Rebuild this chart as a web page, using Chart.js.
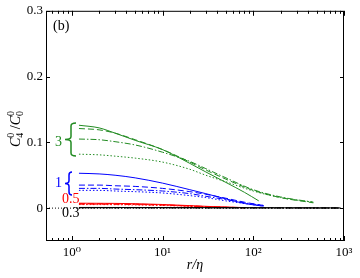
<!DOCTYPE html>
<html>
<head>
<meta charset="utf-8">
<script src="https://cdn.jsdelivr.net/npm/chart.js@4.4.1/dist/chart.umd.min.js"></script>
<style>
    body { margin: 0; background: #fff; }
    canvas { display: block; }
</style>
</head>
<body>
<canvas id="corrChart" width="360" height="278"></canvas>
<script>
// axis ranges and ticks
const xMin = 0.52, xMax = 1000;
const yMin = -0.05, yMax = 0.3;
const xTickValues = [1, 10, 100, 1000];
const xTickLabels = ['10\u2070', '10\u00b9', '10\u00b2', '10\u00b3'];
const yTickValues = [0, 0.1, 0.2, 0.3];
const yTickLabels = ['0', '0.1', '0.2', '0.3'];

// group "3" (green)
const rGreenSolid = [1.2, 2, 3, 5, 10, 20, 30, 50, 80, 115];
const greenSolid = [0.126, 0.122, 0.114, 0.103, 0.089, 0.068, 0.055, 0.039, 0.024, 0.011];
const rGreen = [1.2, 2, 3, 5, 10, 20, 30, 50, 100, 200, 460];
const greenDashed = [0.121, 0.119, 0.114, 0.104, 0.089, 0.070, 0.058, 0.044, 0.027, 0.016, 0.008];
const greenDashDot = [0.105, 0.104, 0.101, 0.096, 0.085, 0.071, 0.060, 0.046, 0.028, 0.017, 0.009];
const greenDotted = [0.082, 0.081, 0.079, 0.076, 0.070, 0.059, 0.050, 0.040, 0.026, 0.016, 0.009];

// group "1" (blue)
const rBlue = [1.2, 2, 3, 5, 10, 20, 30, 50, 80, 130];
const blueSolid = [0.053, 0.052, 0.050, 0.046, 0.038, 0.028, 0.022, 0.014, 0.007, 0.003];
const blueDashed = [0.035, 0.035, 0.034, 0.033, 0.030, 0.025, 0.021, 0.015, 0.009, 0.004];
const blueDashDot = [0.030, 0.030, 0.029, 0.028, 0.026, 0.022, 0.018, 0.013, 0.008, 0.004];
const blueDotted = [0.027, 0.027, 0.026, 0.025, 0.023, 0.019, 0.016, 0.011, 0.007, 0.003];

// group "0.5" (red)
const rRed = [1.2, 3, 5, 10, 20, 40, 80];
const redSolid = [0.0075, 0.0072, 0.0067, 0.0055, 0.0038, 0.0020, 0.0008];
const redDashed = [0.0068, 0.0065, 0.0060, 0.0050, 0.0034, 0.0018, 0.0007];
const redDashDot = [0.0061, 0.0058, 0.0054, 0.0045, 0.0030, 0.0016, 0.0006];
const redDotted = [0.0054, 0.0052, 0.0048, 0.0040, 0.0027, 0.0014, 0.0005];

// group "0.3" (black)
const rBlack = [1.2, 10, 100, 900];
const blackSolid = [0.0010, 0.0009, 0.0006, 0.0003];
const blackDashed = [0.0008, 0.0007, 0.0005, 0.0002];
const blackDashDot = [0.0006, 0.0005, 0.0004, 0.0002];
const blackDotted = [0.0004, 0.0004, 0.0003, 0.0001];

const GREEN = '#228b22';
const BLUE = '#0000ff';
const RED = '#ff0000';
const BLACK = '#000000';
const SOLID = [], DASHED = [6, 3], DASHDOT = [6, 2, 1.5, 2], DOTTED = [1.5, 2];
const SERIF = '"Liberation Serif", "DejaVu Serif", serif';

function series(xs, ys, color, dash) {
    return {
        data: xs.map(function(x, i) { return { x: x, y: ys[i] }; }),
        borderColor: color,
        borderDash: dash,
        borderWidth: 1,
        pointRadius: 0,
        fill: false,
        cubicInterpolationMode: 'monotone'
    };
}

// inward ticks, frame, braces and labels
const decorPlugin = {
    id: 'decor',
    afterDraw: function(chart) {
        const ctx = chart.ctx;
        const a = chart.chartArea;
        const xs = chart.scales.x;
        const ys = chart.scales.y;
        ctx.save();
        ctx.strokeStyle = '#000';
        ctx.lineWidth = 1;
        ctx.setLineDash([]);
        ctx.strokeRect(a.left + 0.5, a.top + 0.5, a.right - a.left - 1, a.bottom - a.top - 1);

        ctx.beginPath();
        for (let k = -1; k <= 3; k++) {
            for (let m = 1; m <= 9; m++) {
                const v = m * Math.pow(10, k);
                if (v < xMin || v > xMax) continue;
                const px = Math.round(xs.getPixelForValue(v)) + 0.5;
                const len = m === 1 ? 5 : 3;
                ctx.moveTo(px, a.bottom);
                ctx.lineTo(px, a.bottom - len);
                ctx.moveTo(px, a.top);
                ctx.lineTo(px, a.top + len);
            }
        }
        yTickValues.forEach(function(v) {
            const py = Math.round(ys.getPixelForValue(v)) + 0.5;
            ctx.moveTo(a.left, py);
            ctx.lineTo(a.left + 4, py);
            ctx.moveTo(a.right, py);
            ctx.lineTo(a.right - 4, py);
        });
        ctx.stroke();

        // braces
        function brace(xr, xl, top, bottom, color) {
            const mid = (top + bottom) / 2;
            const xm = (xr + xl) / 2 + 0.5;
            const r = 3;
            ctx.strokeStyle = color;
            ctx.lineWidth = 1.5;
            ctx.beginPath();
            ctx.moveTo(xr, top);
            ctx.quadraticCurveTo(xm, top, xm, top + r);
            ctx.lineTo(xm, mid - r);
            ctx.quadraticCurveTo(xm, mid, xl, mid);
            ctx.quadraticCurveTo(xm, mid, xm, mid + r);
            ctx.lineTo(xm, bottom - r);
            ctx.quadraticCurveTo(xm, bottom, xr, bottom);
            ctx.stroke();
        }
        brace(76, 65, 123, 156, GREEN);
        brace(72, 65, 172, 195, BLUE);

        ctx.font = '14px ' + SERIF;
        ctx.textBaseline = 'alphabetic';
        ctx.textAlign = 'left';
        ctx.fillStyle = GREEN;
        ctx.fillText('3', 55, 146);
        ctx.fillStyle = BLUE;
        ctx.fillText('1', 55, 187);
        ctx.fillStyle = RED;
        ctx.fillText('0.5', 62, 203);
        ctx.fillStyle = BLACK;
        ctx.fillText('0.3', 62, 217);

        ctx.font = '14px ' + SERIF;
        ctx.fillText('(b)', 53, 30);

        // x title
        ctx.font = 'italic 14px ' + SERIF;
        ctx.textAlign = 'center';
        ctx.fillText('r/\u03b7', (a.left + a.right) / 2, 269);

        // y title: C^0_4 / C^0_0
        ctx.translate(20, 129);
        ctx.rotate(-Math.PI / 2);
        const big = 'italic 14px ' + SERIF;
        const small = '10px ' + SERIF;
        const parts = [
            { t: 'C', f: big, dy: 0, adv: true },
            { t: '0', f: small, dy: -6, adv: false },
            { t: '4', f: small, dy: 3, adv: true },
            { t: ' /', f: '14px ' + SERIF, dy: 0, adv: true },
            { t: 'C', f: big, dy: 0, adv: true },
            { t: '0', f: small, dy: -6, adv: false },
            { t: '0', f: small, dy: 3, adv: true }
        ];
        let total = 0;
        parts.forEach(function(p) {
            ctx.font = p.f;
            if (p.adv) total += ctx.measureText(p.t).width;
        });
        let x = -total / 2;
        ctx.textAlign = 'left';
        parts.forEach(function(p) {
            ctx.font = p.f;
            ctx.fillText(p.t, x, p.dy);
            if (p.adv) x += ctx.measureText(p.t).width;
        });
        ctx.restore();
    }
};

document.addEventListener('DOMContentLoaded', function() {
    const canvas = document.getElementById('corrChart');
    const ctx = canvas.getContext('2d');
    try {
        new Chart(ctx, {
            type: 'line',
            data: {
                datasets: [
                    series([xMin, xMax], [0, 0], BLACK, [1, 2]),
                    series(rBlack, blackSolid, BLACK, SOLID),
                    series(rBlack, blackDashed, BLACK, DASHED),
                    series(rBlack, blackDashDot, BLACK, DASHDOT),
                    series(rBlack, blackDotted, BLACK, DOTTED),
                    series(rRed, redSolid, RED, SOLID),
                    series(rRed, redDashed, RED, DASHED),
                    series(rRed, redDashDot, RED, DASHDOT),
                    series(rRed, redDotted, RED, DOTTED),
                    series(rBlue, blueSolid, BLUE, SOLID),
                    series(rBlue, blueDashed, BLUE, DASHED),
                    series(rBlue, blueDashDot, BLUE, DASHDOT),
                    series(rBlue, blueDotted, BLUE, DOTTED),
                    series(rGreenSolid, greenSolid, GREEN, SOLID),
                    series(rGreen, greenDashed, GREEN, DASHED),
                    series(rGreen, greenDashDot, GREEN, DASHDOT),
                    series(rGreen, greenDotted, GREEN, DOTTED)
                ]
            },
            options: {
                responsive: false,
                animation: false,
                devicePixelRatio: 1,
                layout: { padding: { left: 0, right: 16, top: 9, bottom: 0 } },
                plugins: {
                    legend: { display: false },
                    tooltip: { enabled: false }
                },
                scales: {
                    x: {
                        type: 'logarithmic',
                        min: xMin,
                        max: xMax,
                        afterBuildTicks: function(scale) {
                            scale.ticks = xTickValues.map(function(v) { return { value: v }; });
                        },
                        afterFit: function(scale) { scale.height = 37; },
                        ticks: {
                            autoSkip: false,
                            maxRotation: 0,
                            padding: 4,
                            color: '#000',
                            font: { family: SERIF, size: 13 },
                            callback: function(value, index) { return xTickLabels[index]; }
                        },
                        grid: { display: false, drawTicks: false },
                        border: { display: false }
                    },
                    y: {
                        type: 'linear',
                        min: yMin,
                        max: yMax,
                        afterBuildTicks: function(scale) {
                            scale.ticks = yTickValues.map(function(v) { return { value: v }; });
                        },
                        afterFit: function(scale) { scale.width = 46; },
                        ticks: {
                            padding: 3,
                            color: '#000',
                            font: { family: SERIF, size: 13 },
                            callback: function(value, index) { return yTickLabels[index]; }
                        },
                        grid: { display: false, drawTicks: false },
                        border: { display: false }
                    }
                }
            },
            plugins: [decorPlugin]
        });
        console.log('Chart created');
    } catch (error) {
        console.error('Error creating chart:', error);
    }
});
</script>
</body>
</html>
